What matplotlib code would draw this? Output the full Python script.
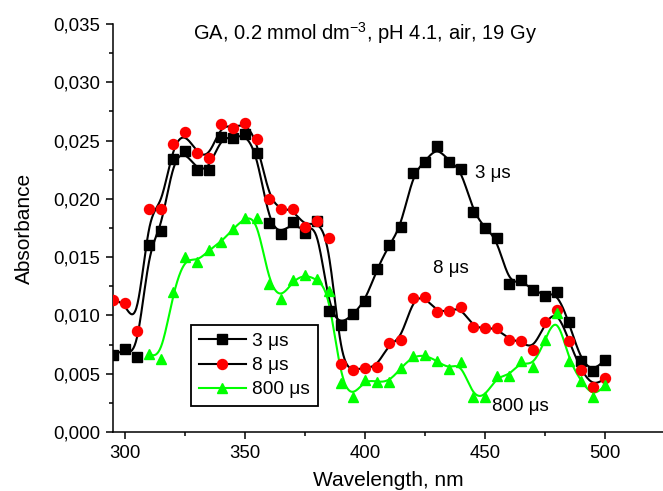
import numpy as np
import matplotlib
matplotlib.use("Agg")
import matplotlib.pyplot as plt
from matplotlib.ticker import MultipleLocator, FuncFormatter

plt.rcParams['font.family'] = ['Liberation Sans', 'DejaVu Sans']
plt.rcParams['mathtext.fontset'] = 'custom'
plt.rcParams['mathtext.rm'] = 'Liberation Sans'
plt.rcParams['mathtext.it'] = 'Liberation Sans:italic'

# Wavelengths (nm)
wl_fast = np.arange(295, 501, 5)
wl_slow = np.arange(310, 501, 5)

# Transient absorbance at 3 us
abs_3us = [0.0066, 0.0071, 0.0064, 0.0160, 0.0172, 0.0234, 0.0241, 0.0225, 0.0225,
           0.0253, 0.0252, 0.0256, 0.0239, 0.0179, 0.0170, 0.0180, 0.0171, 0.0181,
           0.0104, 0.0092, 0.0101, 0.0112, 0.0140, 0.0160, 0.0176, 0.0222, 0.0232,
           0.0245, 0.0232, 0.0226, 0.0189, 0.0175, 0.0166, 0.0127, 0.0130, 0.0122,
           0.0117, 0.0120, 0.0094, 0.0061, 0.0052, 0.0062]

# Transient absorbance at 8 us
abs_8us = [0.0113, 0.0111, 0.0087, 0.0191, 0.0191, 0.0247, 0.0257, 0.0239, 0.0235,
           0.0264, 0.0261, 0.0265, 0.0251, 0.0200, 0.0191, 0.0191, 0.0176, 0.0181,
           0.0166, 0.0058, 0.0053, 0.0055, 0.0056, 0.0076, 0.0079, 0.0115, 0.0116,
           0.0103, 0.0104, 0.0107, 0.0090, 0.0089, 0.0089, 0.0079, 0.0078, 0.0070,
           0.0094, 0.0105, 0.0078, 0.0053, 0.0039, 0.0046]

# Transient absorbance at 800 us
abs_800us = [0.0067, 0.0063, 0.0120, 0.0150, 0.0146, 0.0156, 0.0163, 0.0174, 0.0184,
             0.0184, 0.0127, 0.0114, 0.0130, 0.0135, 0.0131, 0.0121, 0.0042, 0.0030,
             0.0045, 0.0043, 0.0043, 0.0055, 0.0065, 0.0066, 0.0061, 0.0054, 0.0060,
             0.0030, 0.0030, 0.0048, 0.0048, 0.0061, 0.0056, 0.0079, 0.0102, 0.0061,
             0.0044, 0.0030, 0.0040]

series_labels = ['3 \u03bcs', '8 \u03bcs', '800 \u03bcs']


def bspline(x, y, n=20):
    """Clamped uniform cubic B-spline using the data points as control points."""
    px = np.concatenate([[x[0]] * 2, x, [x[-1]] * 2]).astype(float)
    py = np.concatenate([[y[0]] * 2, y, [y[-1]] * 2]).astype(float)
    t = np.linspace(0, 1, n, endpoint=False)
    b0 = (1 - t) ** 3 / 6
    b1 = (3 * t ** 3 - 6 * t ** 2 + 4) / 6
    b2 = (-3 * t ** 3 + 3 * t ** 2 + 3 * t + 1) / 6
    b3 = t ** 3 / 6
    xs, ys = [], []
    for i in range(len(px) - 3):
        xs.append(b0 * px[i] + b1 * px[i + 1] + b2 * px[i + 2] + b3 * px[i + 3])
        ys.append(b0 * py[i] + b1 * py[i + 1] + b2 * py[i + 2] + b3 * py[i + 3])
    xs.append([x[-1]])
    ys.append([y[-1]])
    return np.concatenate(xs), np.concatenate(ys)


fig = plt.figure(figsize=(6.63, 4.91), dpi=100)
ax = fig.add_axes([113 / 663, 59 / 491, 550 / 663, 408 / 491])

styles = [
    (wl_fast, abs_3us, 'black', 's', 'black', 6.5),
    (wl_fast, abs_8us, 'black', 'o', 'red', 7.2),
    (wl_slow, abs_800us, '#00ff00', '^', '#00ff00', 7.2),
]
handles = []
for (x, y, lc, mk, mc, ms), lab in zip(styles, series_labels):
    sx, sy = bspline(np.asarray(x), np.asarray(y))
    ax.plot(sx, sy, color=lc, lw=1.5, zorder=2)
    ax.plot(x, y, ls='none', marker=mk, ms=ms, mfc=mc, mec=mc, zorder=3)
    h, = ax.plot([], [], color=lc, lw=1.5, marker=mk, ms=ms, mfc=mc, mec=mc)
    handles.append(h)

ax.set_xlim(295, 295 + 550 / 2.4)
ax.set_ylim(0.0, 0.035)
ax.spines['top'].set_visible(False)
ax.spines['right'].set_visible(False)
for s in ('left', 'bottom'):
    ax.spines[s].set_linewidth(1.1)

ax.xaxis.set_major_locator(MultipleLocator(50))
ax.xaxis.set_minor_locator(MultipleLocator(25))
ax.yaxis.set_major_locator(MultipleLocator(0.005))
ax.yaxis.set_minor_locator(MultipleLocator(0.0025))
ax.yaxis.set_major_formatter(FuncFormatter(lambda v, p: f"{v:.3f}".replace('.', ',')))
ax.tick_params(which='major', direction='out', length=5, width=1.1, labelsize=13.4, pad=4)
ax.tick_params(which='minor', direction='out', length=3, width=1.1)

ax.set_xlabel('Wavelength, nm', fontsize=15, labelpad=7)
ax.set_ylabel('Absorbance', fontsize=15, labelpad=14)

ax.text(400, 0.0342, 'GA, 0.2 mmol dm$^{\\mathregular{-3}}$, pH 4.1, air, 19 Gy',
        fontsize=14.5, ha='center', va='center')
ax.text(445.8, 0.0222, '3 \u03bcs', fontsize=13.5, ha='left', va='center')
ax.text(428.3, 0.0140, '8 \u03bcs', fontsize=13.5, ha='left', va='center')
ax.text(452.8, 0.0022, '800 \u03bcs', fontsize=13.5, ha='left', va='center')

leg = ax.legend(handles, series_labels, loc='lower left',
                bbox_to_anchor=(78 / 550, 26 / 408), borderaxespad=0,
                fontsize=13.8, numpoints=1, handlelength=2.45, handletextpad=0.35,
                borderpad=0.4, labelspacing=0.35, fancybox=False, framealpha=1,
                edgecolor='black')
leg.get_frame().set_linewidth(1.3)

fig.savefig('out.png', dpi=100)
